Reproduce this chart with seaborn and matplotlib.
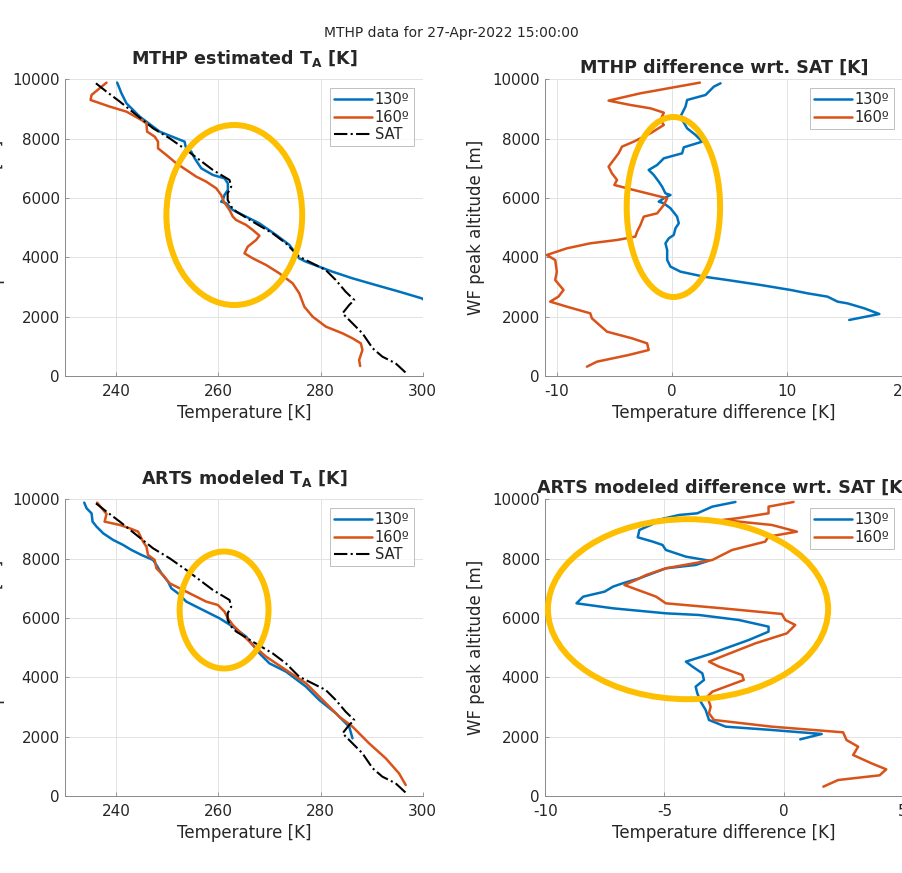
import numpy as np
import pandas as pd
import matplotlib
matplotlib.use("Agg")
import matplotlib.pyplot as plt
from matplotlib.patches import Ellipse
import seaborn as sns

# ---------------- data ----------------
# SAT reference profile (temperature K, altitude m)
sat_T = [236.0, 238.07, 240.68, 243.93, 247.19, 250.44, 253.70, 256.30, 258.9, 262.16,
         262.5, 261.8, 261.8, 262.5, 263.5, 266.7, 270.6, 273.2, 275.8, 278.4, 281.0,
         282.97, 284.9, 286.6, 285.6, 284.3, 286.25, 288.2, 290.2, 292.1, 294.7, 296.67]
sat_alt = [9865, 9584, 9247, 8798, 8348, 8011, 7618, 7281, 6944, 6607,
           6382, 6157, 5933, 5708, 5539, 5202, 4809, 4472, 4022, 3798, 3573,
           3236, 2843, 2562, 2393, 2112, 1775, 1438, 933, 652, 427, 112]

# MTHP estimated, 130
mthp130_T = [240.16, 241.0, 241.65, 241.98, 244.58, 248.49, 251.74, 253.37, 253.57, 254.67,
             255.33, 256.63, 258.91, 261.18, 261.84, 261.84, 261.18, 260.86, 260.53, 261.5,
             262.8, 265.4, 268.0, 271.3, 273.9, 275.8, 277.1, 279.7, 282.3, 286.25,
             290.8, 295.4, 299.8, 302.5, 303.5, 301.0]
mthp130_alt = [9888, 9528, 9303, 9191, 8742, 8236, 8011, 7899, 7730, 7562,
               7337, 7000, 6775, 6663, 6494, 6270, 6101, 5933, 5876, 5820,
               5596, 5371, 5146, 4753, 4416, 3966, 3854, 3685, 3517, 3292,
               3067, 2843, 2618, 2300, 2090, 1890]

# MTHP estimated, 160
mthp160_T = [238.07, 235.14, 234.95, 238.72, 241.98, 244.91, 245.89, 246.02, 247.51, 248.16,
             248.16, 249.79, 251.74, 253.7, 255.65, 257.6, 259.56, 260.53, 261.05, 262.16,
             262.81, 263.46, 265.42, 266.72, 268.02, 267.37, 265.74, 265.09, 266.72, 269.32,
             271.93, 274.53, 275.83, 276.81, 278.44, 281.04, 284.3, 286.25, 287.88, 288.2,
             287.55, 287.75]
mthp160_alt = [9888, 9472, 9303, 9079, 8910, 8629, 8517, 8236, 8067, 7899,
               7674, 7449, 7169, 6944, 6719, 6551, 6326, 6101, 5876, 5596,
               5371, 5258, 5090, 4921, 4730, 4584, 4360, 4135, 3966, 3742,
               3461, 3124, 2787, 2337, 2000, 1663, 1438, 1270, 1101, 876,
               539, 337]

# MTHP difference wrt SAT, 130
dmthp130 = [4.2, 3.62, 2.9, 1.3, 1.16, 0.87, 0.72, 1.3, 2.03, 2.61,
            1.01, 0.87, -0.72, -1.3, -2.03, -1.59, -1.16, -0.87, -0.58, -0.14,
            -0.72, -1.16, -0.72, -0.14, 0.43, 0.58, 0.29, 0.14, -0.29, -0.58,
            -0.43, -0.43, -0.14, 0.72, 2.75, 4.78, 7.68, 10.29, 11.74, 13.48,
            14.35, 15.2, 16.67, 17.97, 15.36]
dmthp130_alt = [9865, 9753, 9472, 9303, 9079, 8854, 8742, 8348, 8124, 7899,
                7708, 7506, 7337, 7112, 6944, 6775, 6551, 6382, 6157, 6101,
                5989, 5876, 5820, 5652, 5371, 5146, 4978, 4753, 4640, 4472,
                4247, 3910, 3685, 3517, 3348, 3236, 3067, 2899, 2787, 2674,
                2506, 2449, 2281, 2090, 1888]

# MTHP difference wrt SAT, 160
dmthp160 = [2.41, -2.75, -5.51, -3.62, -1.88, -0.72, -1.01, -0.72, -1.88, -3.33,
            -4.35, -4.64, -5.51, -5.22, -4.78, -5.01, -3.33, -1.59, -0.43, -0.72,
            -1.30, -2.46, -2.75, -3.04, -3.19, -4.78, -7.1, -9.13, -10.87, -10.14,
            -10.0, -10.14, -9.42, -9.86, -10.58, -9.13, -7.1, -6.96, -5.65, -3.48,
            -2.17, -2.03, -3.77, -6.52, -7.39]
dmthp160_alt = [9888, 9528, 9281, 9135, 9022, 8876, 8629, 8461, 8180, 7899,
                7730, 7506, 7056, 6831, 6607, 6438, 6270, 6101, 5989, 5764,
                5483, 5371, 5090, 4865, 4697, 4584, 4472, 4303, 4079, 3910,
                3517, 3236, 2899, 2674, 2506, 2337, 2112, 1944, 1494, 1270,
                1101, 876, 708, 483, 315]

# ARTS modeled, 130
arts130_T = [233.71, 234.17, 235.14, 235.34, 236.12, 237.42, 239.38, 241.33, 242.96, 244.91,
             247.19, 247.84, 248.81, 250.12, 250.77, 252.08, 253.7, 255.65, 258.26, 260.21,
             262.81, 265.42, 268.02, 269.97, 273.23, 277.14, 279.74, 283.0, 285.6, 286.25]
arts130_alt = [9888, 9697, 9528, 9247, 9079, 8854, 8629, 8461, 8292, 8124,
               7955, 7787, 7506, 7225, 7000, 6831, 6551, 6382, 6157, 5989,
               5708, 5371, 4809, 4472, 4191, 3685, 3236, 2787, 2337, 1944]

# ARTS modeled, 160
arts160_T = [236.25, 237.42, 238.07, 237.7, 240.68, 242.63, 244.26, 245.23, 245.89, 246.2,
             247.51, 247.84, 249.14, 250.44, 251.74, 253.70, 255.65, 257.6, 259.88, 261.18,
             261.84, 262.81, 264.44, 266.72, 269.32, 273.23, 277.14, 280.4, 283.65, 286.25,
             289.5, 292.76, 295.36, 296.67]
arts160_alt = [9888, 9640, 9506, 9247, 9135, 9022, 8910, 8573, 8405, 8124,
               7955, 7674, 7449, 7169, 7056, 6888, 6719, 6551, 6438, 6213,
               5989, 5764, 5483, 5090, 4697, 4247, 3798, 3236, 2674, 2337,
               1775, 1270, 764, 371]

# ARTS difference wrt SAT, 130
darts130 = [-2.02, -2.99, -3.62, -4.38, -5.29, -5.42, -6.05, -6.12, -5.49, -5.08,
            -4.94, -4.10, -3.13, -3.69, -4.94, -6.05, -6.75, -7.16, -7.51, -8.41,
            -8.69, -7.16, -4.94, -3.55, -1.88, -0.63, -0.63, -1.46, -2.43, -2.99,
            -4.10, -3.82, -3.41, -3.34, -3.69, -3.62, -3.48, -3.27, -3.13, -2.43,
            -0.49, 1.60, 0.70]
darts130_alt = [9910, 9753, 9528, 9472, 9303, 9191, 8966, 8719, 8573, 8461,
                8292, 8067, 7933, 7787, 7674, 7337, 7169, 7056, 6888, 6719,
                6494, 6326, 6157, 6101, 5933, 5708, 5539, 5258, 4978, 4809,
                4528, 4360, 4135, 3910, 3685, 3461, 3180, 2899, 2562, 2337,
                2225, 2090, 1910]

# ARTS difference wrt SAT, 160
darts160 = [0.42, -0.63, -0.63, -1.95, -2.57, -0.49, 0.56, -0.63, -0.77, -2.16,
            -2.99, -4.94, -5.77, -6.19, -6.68, -5.35, -4.94, -2.57, -0.07, 0.07,
            0.49, 0.14, -1.18, -2.43, -3.13, -2.71, -1.74, -1.67, -2.43, -2.99,
            -3.20, -3.06, -3.13, -2.92, -0.49, 2.50, 2.64, 3.13, 2.92, 3.69,
            4.31, 4.03, 2.29, 1.67]
darts160_alt = [9910, 9753, 9528, 9360, 9303, 9135, 8910, 8742, 8573, 8292,
                7955, 7674, 7449, 7281, 7112, 6719, 6494, 6326, 6135, 5933,
                5764, 5483, 5146, 4753, 4528, 4360, 4079, 3910, 3685, 3517,
                3348, 3011, 2787, 2562, 2337, 2146, 1888, 1663, 1382, 1101,
                899, 697, 539, 315]

suptitle = "MTHP data for 27-Apr-2022 15:00:00"
titles = [r"MTHP estimated T$_\mathbf{A}$ [K]", "MTHP difference wrt. SAT [K]",
          r"ARTS modeled T$_\mathbf{A}$ [K]", "ARTS modeled difference wrt. SAT [K]"]
xlabels = ["Temperature [K]", "Temperature difference [K]"]
ylabel = "WF peak altitude [m]"
labels = ["130º", "160º", "SAT"]

# ---------------- style ----------------
sns.set_theme(style="whitegrid")
plt.rcParams["font.family"] = ["DejaVu Sans"]
plt.rcParams.update({
    "axes.unicode_minus": False,
    "axes.edgecolor": "#8a8a8a",
    "axes.linewidth": 0.7,
    "grid.color": "#e3e3e3",
    "grid.linewidth": 0.7,
    "xtick.direction": "in",
    "ytick.direction": "in",
    "xtick.major.size": 3,
    "ytick.major.size": 3,
    "xtick.major.width": 0.6,
    "ytick.major.width": 0.6,
    "xtick.color": "#8a8a8a",
    "ytick.color": "#8a8a8a",
    "xtick.labelcolor": "#262626",
    "ytick.labelcolor": "#262626",
    "xtick.bottom": True,
    "ytick.left": True,
})

C130 = (0.0, 0.447, 0.741)
C160 = (0.85, 0.325, 0.098)
YELLOW = "#FDBF00"

fig = plt.figure(figsize=(9.03, 8.73), dpi=100)
W, H = 903, 873
def ax_at(x0, ytop, w=357.4, h=296.7):
    return fig.add_axes([x0 / W, 1 - (ytop + h) / H, w / W, h / H])

ax_tl = ax_at(65.3, 79.3)
ax_tr = ax_at(545.3, 79.3)
ax_bl = ax_at(65.3, 499.3)
ax_br = ax_at(545.3, 499.3)

def line(ax, x, y, color, ls="-", lw=1.8, label=None):
    df = pd.DataFrame({"x": x, "y": y})
    sns.lineplot(data=df, x="x", y="y", sort=False, estimator=None, ax=ax,
                 color=color, linestyle=ls, linewidth=lw, label=label, legend=False)

# top-left
line(ax_tl, mthp130_T, mthp130_alt, C130, label=labels[0])
line(ax_tl, mthp160_T, mthp160_alt, C160, label=labels[1])
line(ax_tl, sat_T, sat_alt, "black", ls="-.", lw=1.5, label=labels[2])
# top-right
line(ax_tr, dmthp130, dmthp130_alt, C130, label=labels[0])
line(ax_tr, dmthp160, dmthp160_alt, C160, label=labels[1])
# bottom-left
line(ax_bl, arts130_T, arts130_alt, C130, label=labels[0])
line(ax_bl, arts160_T, arts160_alt, C160, label=labels[1])
line(ax_bl, sat_T, sat_alt, "black", ls="-.", lw=1.5, label=labels[2])
# bottom-right
line(ax_br, darts130, darts130_alt, C130, label=labels[0])
line(ax_br, darts160, darts160_alt, C160, label=labels[1])

for i, ax in enumerate([ax_tl, ax_tr, ax_bl, ax_br]):
    left = i % 2 == 0
    ax.set_ylim(0, 10000)
    ax.set_yticks([0, 2000, 4000, 6000, 8000, 10000])
    if left:
        ax.set_xlim(230, 300)
        ax.set_xticks([240, 260, 280, 300])
        ax.set_xlabel(xlabels[0], fontsize=12, color="#262626", labelpad=3)
    else:
        if i == 1:
            ax.set_xlim(-11, 20)
            ax.set_xticks([-10, 0, 10, 20])
        else:
            ax.set_xlim(-10, 5)
            ax.set_xticks([-10, -5, 0, 5])
        ax.set_xlabel(xlabels[1], fontsize=12, color="#262626", labelpad=3)
    ax.set_ylabel(ylabel, fontsize=12, color="#262626", labelpad=5)
    ax.tick_params(axis="x", labelsize=11, pad=6)
    ax.tick_params(axis="y", labelsize=10.8, pad=4)
    ax.set_title(titles[i], fontsize=12.6, fontweight="bold",
                 pad=11 if left else 5)
    for s in ["top", "right"]:
        ax.spines[s].set_visible(False)
    ax.grid(True)
    leg = ax.legend(loc="upper right", fontsize=10.5, handlelength=2.6,
                    handletextpad=0.2, borderpad=0.3, labelspacing=0.15,
                    frameon=True, fancybox=False, borderaxespad=0.6)
    leg.get_frame().set_edgecolor("#b0b0b0")
    leg.get_frame().set_linewidth(0.7)

# highlight ellipses (data coords of each panel)
ell = [(ax_tl, 263.1, 5426, 26.6, 6067),
       (ax_tr, 0.11, 5696, 8.1, 6067),
       (ax_bl, 261.1, 6269, 17.4, 3943),
       (ax_br, -4.01, 6296, 11.76, 6067)]
for ax, cx, cy, w, h in ell:
    e = Ellipse((cx, cy), w, h, fill=False, edgecolor=YELLOW, linewidth=4.3,
                clip_on=False, zorder=10)
    ax.add_patch(e)

fig.text(0.5, 1 - 33 / H, suptitle, ha="center", va="center", fontsize=10,
         color="#262626")

fig.savefig("out.png", dpi=100)
